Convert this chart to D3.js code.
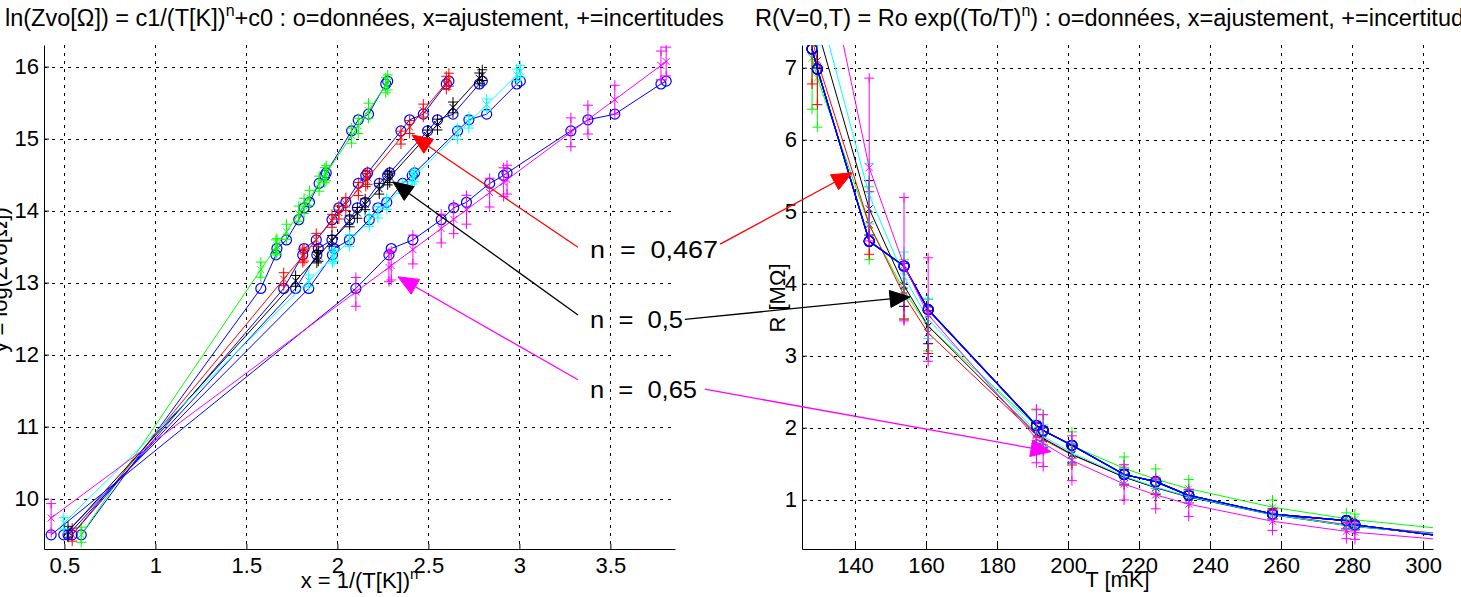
<!DOCTYPE html>
<html><head><meta charset="utf-8">
<script src="https://cdn.jsdelivr.net/npm/d3@7"></script>
<style>
body{margin:0;background:#fff;}
svg{display:block;font-family:"Liberation Sans",Arial,Helvetica,sans-serif;}
</style>
</head><body>
<svg id="c" width="1461" height="597"></svg>
<script>
// ---------------- DATA ----------------
// measured points (temperature in mK, resistance in MOhm)
const tempMK   = [3700, 319, 280.8, 278.4, 257.6, 234.0, 224.7, 215.8, 201.1, 193.0, 191.1, 160.6, 153.8, 144.0, 129.4, 127.9];
const resMOhm  = [0.01331, 0.408, 0.65, 0.71, 0.80, 1.06, 1.25, 1.35, 1.755, 1.96, 2.03, 3.64, 4.245, 4.59, 6.98, 7.26];
// fitted series : exponent n, slope c1, offset c0 (ln scale), half-width of uncertainty (ln scale)
const seriesColors = ["#00ff00", "#ff0000", "#000000", "#00ffff", "#ff00ff"];
const exponentN    = [0.40, 0.467, 0.5, 0.535, 0.65];
const fitC1        = [3.731, 3.053, 2.786, 2.501, 1.876];
const fitC0        = [7.287, 7.842, 8.091, 8.417, 8.929];
const errDelta     = [0.105, 0.09, 0.075, 0.08, 0.2];
// ticks
const leftXTicks  = [0.5, 1, 1.5, 2, 2.5, 3, 3.5];
const leftYTicks  = [10, 11, 12, 13, 14, 15, 16];
const rightXTicks = [140, 160, 180, 200, 220, 240, 260, 280, 300];
const rightYTicks = [1, 2, 3, 4, 5, 6, 7];
// annotations (text & arrows in left-plot units, right arrow tips in right-plot units)
const annLabels    = ["n  =  0,467", "n  =  0,5", "n  =  0,65"];
const annColors    = ["#ff0000", "#000000", "#ff00ff"];
const annTextPos   = [[3.388, 13.343], [3.388, 12.37], [3.388, 11.40]];
const annLeftTail  = [[3.322, 13.49], [3.322, 12.55], [3.322, 11.65]];
const annLeftTip   = [[2.410, 15.05], [2.305, 14.40], [2.333, 13.08]];
const annRightTail = [[4.103, 13.535], [3.909, 12.49], [4.019, 11.52]];
const annRightTip  = [[139.2, 5.54], [155.5, 3.815], [195.2, 1.667]];
const annWidths    = [128, 93, 107];

// ---------------- LAYOUT ----------------
const svg = d3.select("#c");
const L = {x0: 44, x1: 675, y0: 45, y1: 549};
const R = {x0: 802, x1: 1433, y0: 45, y1: 549};
const xL = d3.scaleLinear([0.388, 3.855], [L.x0, L.x1]);
const yL = d3.scaleLinear([9.30, 16.30], [L.y1, L.y0]);
const xR = d3.scaleLinear([125.07, 302.8], [R.x0, R.x1]);
const yR = d3.scaleLinear([0.315, 7.315], [R.y1, R.y0]);
const FONT = 22;

const defs = svg.append("defs");
[["clipL", L], ["clipR", R]].forEach(([id, b]) => {
  defs.append("clipPath").attr("id", id).append("rect")
    .attr("x", b.x0).attr("y", b.y0).attr("width", b.x1 - b.x0).attr("height", b.y1 - b.y0);
});

function grid(b, xs, ys, xt, yt) {
  const g = svg.append("g").attr("stroke", "#000").attr("stroke-width", 1).attr("fill", "none");
  g.selectAll(".v").data(xt).join("line").attr("x1", d => Math.round(xs(d)) + 0.5).attr("x2", d => Math.round(xs(d)) + 0.5)
    .attr("y1", b.y0).attr("y2", b.y1).attr("stroke-dasharray", "3,5");
  g.selectAll(".h").data(yt).join("line").attr("y1", d => Math.round(ys(d)) + 0.5).attr("y2", d => Math.round(ys(d)) + 0.5)
    .attr("x1", b.x0).attr("x2", b.x1).attr("stroke-dasharray", "3,5");
}
grid(L, xL, yL, leftXTicks, leftYTicks);
grid(R, xR, yR, rightXTicks, rightYTicks);

// marker helpers
function plus(g, x, y, s, c) {
  g.append("path").attr("d", `M${x - s},${y}H${x + s}M${x},${y - s}V${y + s}`).attr("stroke", c).attr("fill", "none").attr("stroke-width", 1);
}
function cross(g, x, y, s, c) {
  g.append("path").attr("d", `M${x - s},${y - s}L${x + s},${y + s}M${x - s},${y + s}L${x + s},${y - s}`).attr("stroke", c).attr("fill", "none").attr("stroke-width", 1);
}
function circ(g, x, y, r, c) {
  g.append("circle").attr("cx", x).attr("cy", y).attr("r", r).attr("stroke", c).attr("fill", "none").attr("stroke-width", 1.2);
}

const lnR = resMOhm.map(r => Math.log(r * 1e6));
const gL = svg.append("g").attr("clip-path", "url(#clipL)");
const gR = svg.append("g").attr("clip-path", "url(#clipR)");
const lineGen = d3.line();

seriesColors.forEach((col, i) => {
  const n = exponentN[i];
  const xs = tempMK.map(t => Math.pow(t / 1000, -n));
  const fitY = xs.map(x => fitC0[i] + fitC1[i] * x);
  const fitR = fitY.map(y => Math.exp(y) / 1e6);
  const dl = errDelta[i];

  // ---- left plot ----
  gL.append("path").attr("d", lineGen(xs.map((x, k) => [xL(x), yL(lnR[k])])))
    .attr("fill", "none").attr("stroke", "#0000ff").attr("stroke-width", 1);
  xs.forEach((x, k) => circ(gL, xL(x), yL(lnR[k]), 5, "#0000ff"));
  gL.append("path").attr("d", lineGen(xs.map((x, k) => [xL(x), yL(fitY[k])])))
    .attr("fill", "none").attr("stroke", col).attr("stroke-width", 1);
  xs.forEach((x, k) => {
    const px = xL(x);
    cross(gL, px, yL(fitY[k]), 3.5, col);
    gL.append("line").attr("x1", px).attr("x2", px).attr("y1", yL(fitY[k] - dl)).attr("y2", yL(fitY[k] + dl)).attr("stroke", col);
    plus(gL, px, yL(fitY[k] - dl), 5, col);
    plus(gL, px, yL(fitY[k] + dl), 5, col);
  });

  // ---- right plot ----
  gR.append("path").attr("d", lineGen(tempMK.map((t, k) => [xR(t), yR(resMOhm[k])])))
    .attr("fill", "none").attr("stroke", "#0000ff").attr("stroke-width", 1.2);
  tempMK.forEach((t, k) => circ(gR, xR(t), yR(resMOhm[k]), 5, "#0000ff"));
  gR.append("path").attr("d", lineGen(tempMK.map((t, k) => [xR(t), yR(fitR[k])])))
    .attr("fill", "none").attr("stroke", col).attr("stroke-width", 1);
  tempMK.forEach((t, k) => {
    const px = xR(t);
    const lo = fitR[k] * Math.exp(-dl), hi = fitR[k] * Math.exp(dl);
    cross(gR, px, yR(fitR[k]), 3.5, col);
    gR.append("line").attr("x1", px).attr("x2", px).attr("y1", yR(lo)).attr("y2", yR(hi)).attr("stroke", col);
    plus(gR, px, yR(lo), 5, col);
    plus(gR, px, yR(hi), 5, col);
  });
});

// ---------------- AXES ----------------
function styleAxis(g) {
  g.attr("font-size", FONT).attr("font-family", null);
  g.select(".domain").attr("stroke", "#000").attr("stroke-width", 1);
  g.selectAll(".tick line").attr("stroke", "#000");
  g.selectAll(".tick text").attr("fill", "#000");
}
const fmt = d => String(d);
svg.append("g").attr("transform", `translate(0,${L.y1})`)
  .call(d3.axisBottom(xL).tickValues(leftXTicks).tickFormat(fmt).tickSizeInner(-5).tickSizeOuter(0).tickPadding(8)).call(styleAxis);
svg.append("g").attr("transform", `translate(${L.x0},0)`)
  .call(d3.axisLeft(yL).tickValues(leftYTicks).tickFormat(fmt).tickSizeInner(-5).tickSizeOuter(0).tickPadding(5)).call(styleAxis);
svg.append("g").attr("transform", `translate(0,${R.y1})`)
  .call(d3.axisBottom(xR).tickValues(rightXTicks).tickFormat(fmt).tickSizeInner(-5).tickSizeOuter(0).tickPadding(8)).call(styleAxis);
svg.append("g").attr("transform", `translate(${R.x0},0)`)
  .call(d3.axisLeft(yR).tickValues(rightYTicks).tickFormat(fmt).tickSizeInner(-5).tickSizeOuter(0).tickPadding(5)).call(styleAxis);

// ---------------- TITLES & LABELS ----------------
function supText(x, y, anchor, size, before, sup, after) {
  const t = svg.append("text").attr("x", x).attr("y", y).attr("text-anchor", anchor).attr("font-size", size).attr("fill", "#000");
  t.append("tspan").text(before);
  t.append("tspan").attr("dy", -size * 0.42).attr("font-size", size * 0.68).text(sup);
  t.append("tspan").attr("dy", size * 0.42).text(after);
  return t;
}
supText(5, 26, "start", 23.5, "ln(Zvo[Ω]) = c1/(T[K])", "n", "+c0 : o=données, x=ajustement, +=incertitudes");
supText(755, 26, "start", 23.5, "R(V=0,T) = Ro exp((To/T)", "n", ") : o=données, x=ajustement, +=incertitudes");
supText((L.x0 + L.x1) / 2, 588, "middle", FONT, "x = 1/(T[K])", "n", "");
svg.append("text").attr("x", (R.x0 + R.x1) / 2).attr("y", 587).attr("text-anchor", "middle").attr("font-size", FONT).text("T [mK]");
svg.append("text").attr("transform", "translate(7,280) rotate(-90)").attr("text-anchor", "middle").attr("font-size", FONT).text("y = log(Zvo[Ω])");
svg.append("text").attr("transform", "translate(785,298) rotate(-90)").attr("text-anchor", "middle").attr("font-size", FONT).text("R [MΩ]");

// ---------------- ANNOTATIONS ----------------
function arrow(x1, y1, x2, y2, col) {
  const ang = Math.atan2(y2 - y1, x2 - x1);
  const len = 20, hw = 8.5;
  const bx = x2 - len * Math.cos(ang), by = y2 - len * Math.sin(ang);
  svg.append("line").attr("x1", x1).attr("y1", y1).attr("x2", bx).attr("y2", by).attr("stroke", col).attr("stroke-width", 1.3);
  const px = -Math.sin(ang) * hw, py = Math.cos(ang) * hw;
  svg.append("path").attr("d", `M${x2},${y2}L${bx + px},${by + py}L${bx - px},${by - py}Z`).attr("fill", col).attr("stroke", col);
}
annLabels.forEach((lab, i) => {
  svg.append("text").attr("x", xL(annTextPos[i][0])).attr("y", yL(annTextPos[i][1]))
    .attr("font-size", 24).attr("style", "white-space:pre").attr("textLength", annWidths[i]).attr("lengthAdjust", "spacingAndGlyphs").text(lab);
  arrow(xL(annLeftTail[i][0]), yL(annLeftTail[i][1]), xL(annLeftTip[i][0]), yL(annLeftTip[i][1]), annColors[i]);
  arrow(xL(annRightTail[i][0]), yL(annRightTail[i][1]), xR(annRightTip[i][0]), yR(annRightTip[i][1]), annColors[i]);
});
</script>
</body></html>
